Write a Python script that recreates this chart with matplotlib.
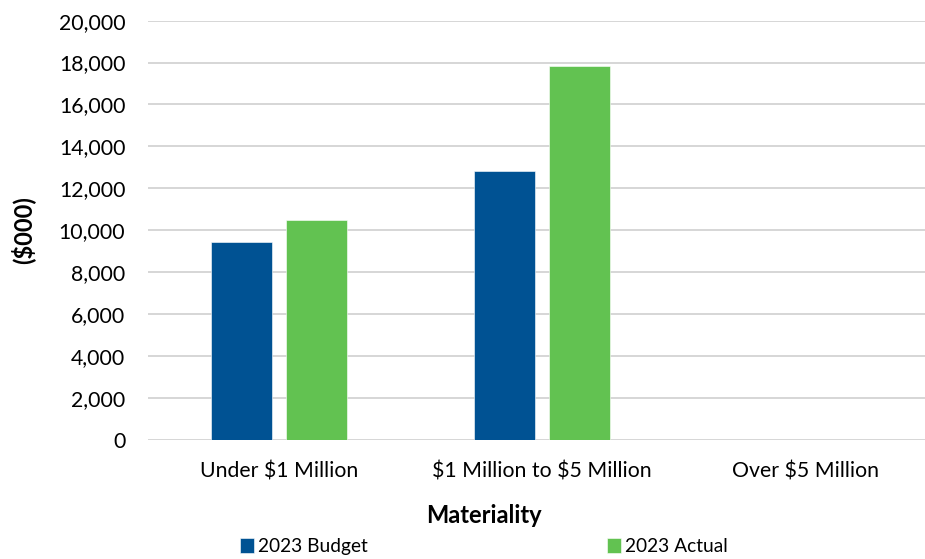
import matplotlib
matplotlib.use("Agg")
import matplotlib.pyplot as plt
import numpy as np
from matplotlib.ticker import FuncFormatter, MultipleLocator

plt.rcParams["font.family"] = ["Lato", "DejaVu Sans"]
plt.rcParams["text.parse_math"] = False

CATEGORIES = ["Under $1 Million", "$1 Million to $5 Million", "Over $5 Million"]
BUDGET = [9420, 12830, 0]
ACTUAL = [10490, 17850, 0]
SERIES = ["2023 Budget", "2023 Actual"]

BLUE = "#005293"
GREEN = "#62C251"

fig = plt.figure(figsize=(9.25, 5.59), dpi=100)
ax = fig.add_axes([0.1595, 0.2134, 0.853, 0.7496])

x = np.arange(len(CATEGORIES))
w = 0.232
off = 0.1425
b1 = ax.bar(x - off, BUDGET, w, color=BLUE, edgecolor="white", linewidth=0.4, zorder=3)
b2 = ax.bar(x + off, ACTUAL, w, color=GREEN, edgecolor="white", linewidth=0.4, zorder=3)

ax.set_xlim(-0.5, 2.5)
ax.set_ylim(0, 20000)
ax.yaxis.set_major_locator(MultipleLocator(2000))
ax.yaxis.set_major_formatter(FuncFormatter(lambda v, p: f"{v:,.0f}"))
ax.grid(axis="y", color="#d0d0d0", linewidth=1.2, zorder=0)
ax.set_axisbelow(True)
for s in ax.spines.values():
    s.set_visible(False)
ax.tick_params(axis="both", length=0, labelsize=15.3, colors="#000000")
ax.tick_params(axis="y", pad=16)
ax.tick_params(axis="x", pad=16)
ax.set_xticks(x)
ax.set_xticklabels(CATEGORIES)

fig.text(0.025, 0.589, "($000)", rotation=90, fontsize=17, fontweight="bold",
         ha="center", va="center")
fig.text(0.523, 0.078, "Materiality", fontsize=17, fontweight="bold",
         ha="center", va="center")

fig.legend([b1, b2], SERIES, loc="center", bbox_to_anchor=(0.523, 0.022), ncol=2,
           frameon=False, fontsize=13.8, handlelength=0.75, handleheight=0.75,
           handletextpad=0.2, columnspacing=12.5, borderaxespad=0)

fig.savefig("out.png", dpi=100)
